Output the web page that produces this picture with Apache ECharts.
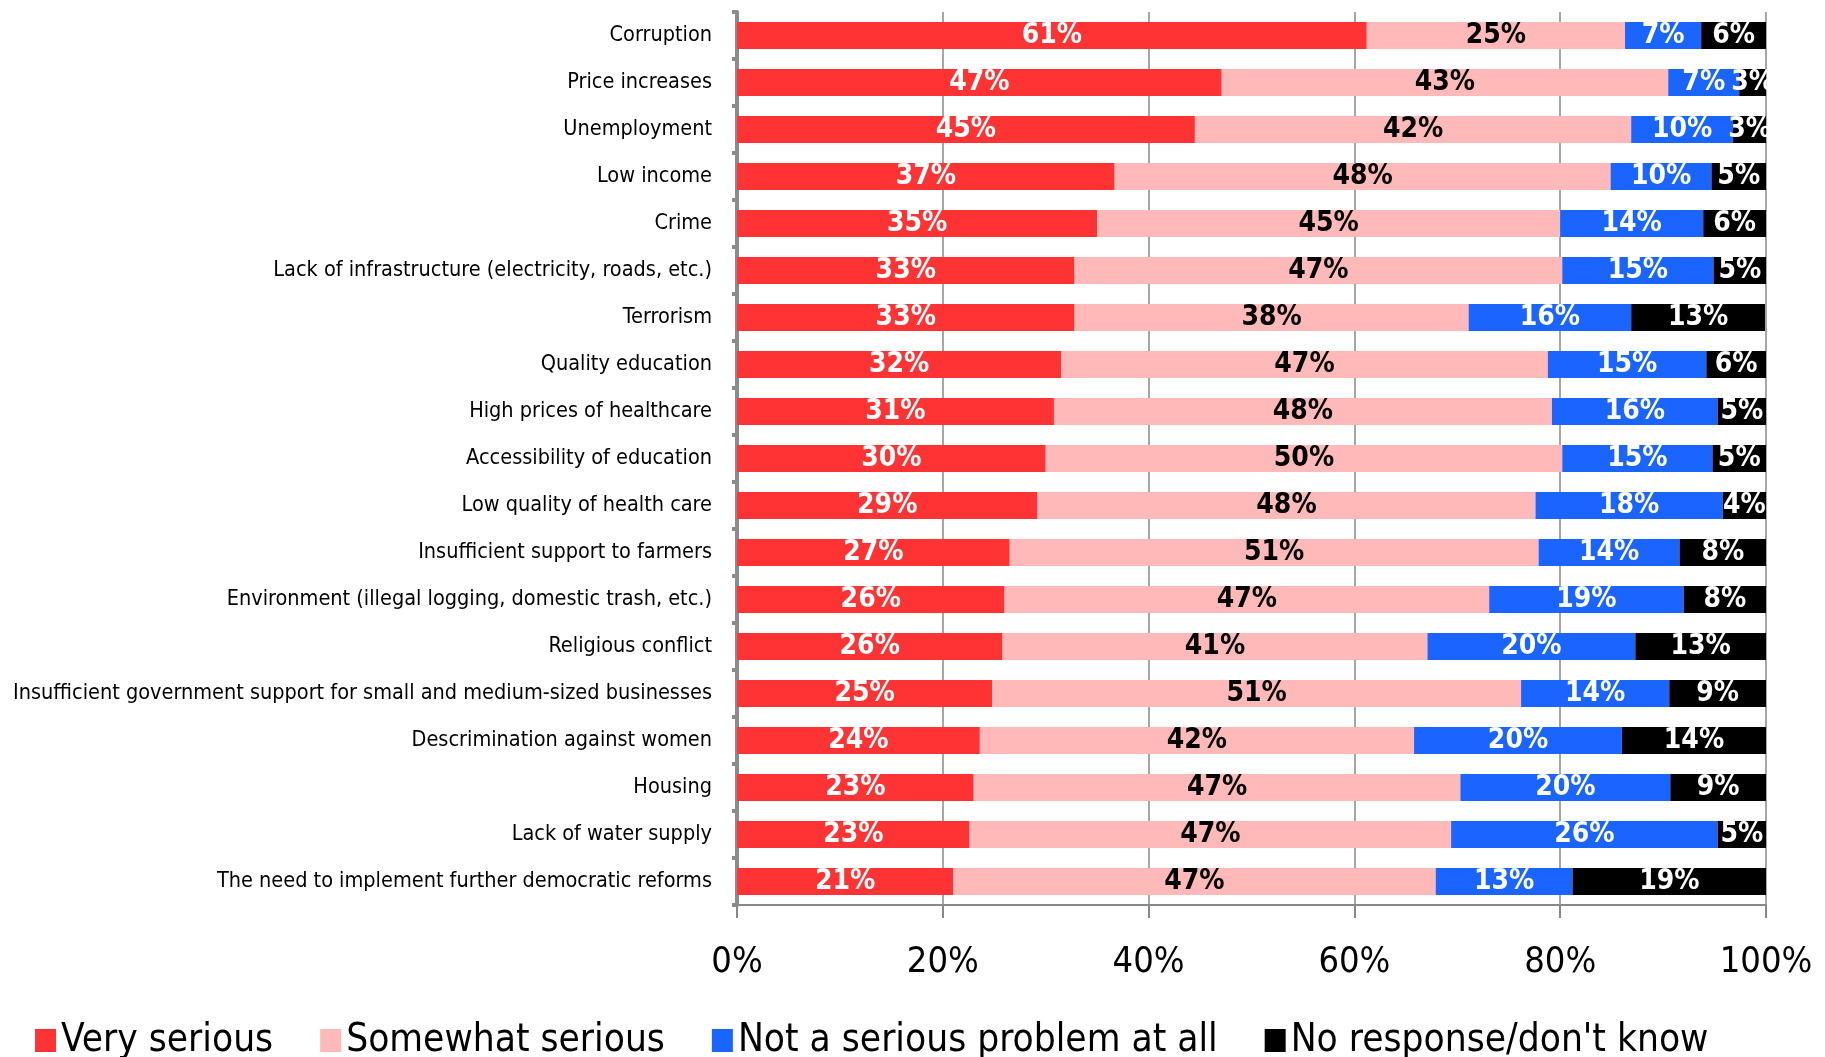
<!DOCTYPE html>
<html>
<head>
<meta charset="utf-8">
<script src="https://cdn.jsdelivr.net/npm/echarts@6/dist/echarts.min.js"></script>
<style>
  html, body { margin: 0; padding: 0; background: #fff; }
  #chart { width: 1825px; height: 1057px; }
</style>
</head>
<body>
<div id="chart"></div>
<script>
const FONT = '"Liberation Sans Narrow", "DejaVu Sans Condensed", sans-serif';

const categories = [
  'Corruption',
  'Price increases',
  'Unemployment',
  'Low income',
  'Crime',
  'Lack of infrastructure (electricity, roads, etc.)',
  'Terrorism',
  'Quality education',
  'High prices of healthcare',
  'Accessibility of education',
  'Low quality of health care',
  'Insufficient support to farmers',
  'Environment (illegal logging, domestic trash, etc.)',
  'Religious conflict',
  'Insufficient government support for small and medium-sized businesses',
  'Descrimination against women',
  'Housing',
  'Lack of water supply',
  'The need to implement further democratic reforms'
];

const seriesNames = ['Very serious', 'Somewhat serious', 'Not a serious problem at all', "No response/don't know"];

// percentages
const verySerious     = [61.2, 47.1, 44.5, 36.7, 35.0, 32.8, 32.8, 31.5, 30.8, 30.0, 29.2, 26.5, 26.0, 25.8, 24.8, 23.6, 23.0, 22.6, 21.0];
const somewhatSerious = [25.1, 43.4, 42.4, 48.2, 45.0, 47.4, 38.3, 47.3, 48.4, 50.2, 48.4, 51.4, 47.1, 41.3, 51.4, 42.2, 47.3, 46.8, 46.9];
const notSerious      = [7.4, 6.9, 9.9, 9.8, 13.9, 14.7, 15.8, 15.4, 16.1, 14.6, 18.2, 13.7, 18.9, 20.2, 14.4, 20.2, 20.4, 25.9, 13.3];
const noResponse      = [6.3, 2.6, 3.2, 5.3, 6.1, 5.1, 13.0, 5.8, 4.7, 5.2, 4.2, 8.4, 8.0, 12.7, 9.4, 14.0, 9.3, 4.7, 18.8];

const colors = ['#FF3333', '#FFB9B9', '#1A64FF', '#000000'];
const labelColors = ['#ffffff', '#000000', '#ffffff', '#ffffff'];
const values = [verySerious, somewhatSerious, notSerious, noResponse];

const xTicks = [0, 20, 40, 60, 80, 100];

const chart = echarts.init(document.getElementById('chart'));

const option = {
  animation: false,
  backgroundColor: '#ffffff',
  textStyle: { fontFamily: FONT },
  legend: {
    left: 30,
    top: 1016,
    itemWidth: 21,
    itemHeight: 23,
    itemGap: 47,
    icon: 'rect',
    textStyle: { fontSize: 38.5, color: '#000', fontFamily: FONT },
    data: seriesNames
  },
  grid: {
    left: 737,
    right: 59,
    top: 12,
    bottom: 152,
    containLabel: false,
    outerBoundsMode: 'none'
  },
  xAxis: {
    type: 'value',
    min: xTicks[0],
    max: xTicks[xTicks.length - 1],
    interval: 20,
    axisLine: { show: true, lineStyle: { color: '#888', width: 2 } },
    axisTick: { show: true, length: 13, lineStyle: { color: '#888', width: 2 } },
    axisLabel: {
      margin: 40,
      fontSize: 36,
      color: '#000',
      fontFamily: FONT,
      formatter: v => v + '%'
    },
    splitLine: { show: true, lineStyle: { color: '#888', width: 1.5 } }
  },
  yAxis: {
    type: 'category',
    inverse: true,
    data: categories,
    offset: 6,
    axisLine: { show: true, lineStyle: { color: '#8c8c8c', width: 4 } },
    axisTick: { show: true, length: 5, lineStyle: { color: '#8c8c8c', width: 4 } },
    axisLabel: {
      margin: 19,
      fontSize: 21.5,
      color: '#000',
      fontFamily: FONT
    }
  },
  series: seriesNames.map((name, i) => ({
    name: name,
    type: 'bar',
    stack: 'total',
    barWidth: 27,
    itemStyle: { color: colors[i] },
    label: {
      show: true,
      position: 'inside',
      color: labelColors[i],
      fontSize: 28,
      fontWeight: 'bold',
      fontFamily: FONT,
      formatter: p => Math.round(p.value) + '%'
    },
    data: values[i]
  }))
};

chart.setOption(option);
</script>
</body>
</html>
